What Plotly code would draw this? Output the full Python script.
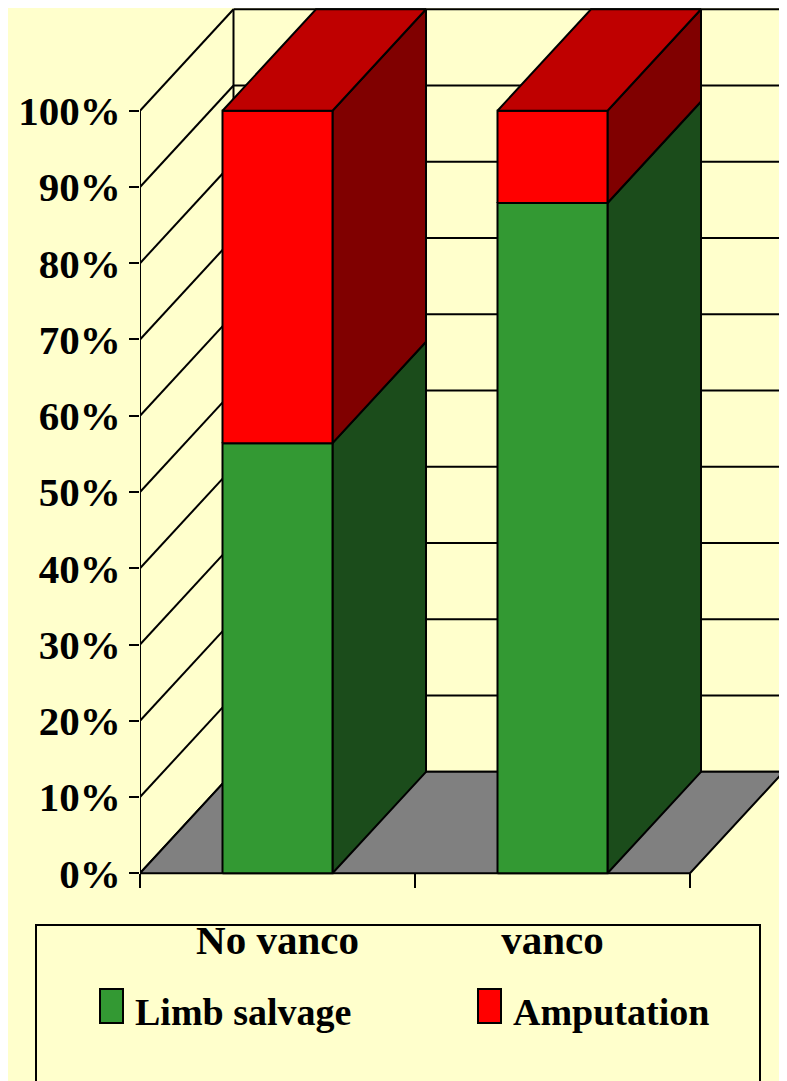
import plotly.graph_objects as go

# ---------------- data ----------------
categories = ["No vanco", "vanco"]
limb_salvage = [56.4, 87.9]      # % (green, bottom)
amputation = [43.6, 12.1]        # % (red, top)
series_names = ["Limb salvage", "Amputation"]
grid_values = [0, 10, 20, 30, 40, 50, 60, 70, 80, 90, 100]
y_tick_labels = [f"{v}%" for v in grid_values]

# ---------------- style ----------------
BG = "#FFFFCC"
FRONT = {"Limb salvage": "#339933", "Amputation": "#FF0000"}
SIDE = {"Limb salvage": "#1B4C1B", "Amputation": "#800000"}
TOP = {"Limb salvage": "#267326", "Amputation": "#BF0000"}
FLOOR = "#808080"
DX = 0.34      # 3-D depth offset (category units)
DY = 13.3      # 3-D depth offset (percent units)
HALF = 0.2     # half bar width (category units)
FONT = "Liberation Serif, Times New Roman, serif"

OFF = 8                      # page body margin
W, H = 787 - OFF, 1081 - OFF
L = 140 - OFF
PX_PER_CAT = 275.0
PX_PER_PCT = 7.626
ZERO_PX = 873.3 - OFF
x_range = [0, (W - L) / PX_PER_CAT]
y_range = [-(H - ZERO_PX) / PX_PER_PCT, ZERO_PX / PX_PER_PCT]

n = len(categories)
fig = go.Figure()


def poly(xs, ys, color):
    fig.add_trace(go.Scatter(
        x=list(xs) + [xs[0]], y=list(ys) + [ys[0]], mode="lines",
        fill="toself", fillcolor=color,
        line=dict(color="black", width=2),
        hoverinfo="skip", showlegend=False))


# walls (gridlines on back wall and left wall)
wx, wy = [], []
for g in grid_values:
    wx += [DX, n + DX, None]
    wy += [g + DY, g + DY, None]
    wx += [0, DX, None]
    wy += [g, g + DY, None]
for xv in (DX, n + DX):
    wx += [xv, xv, None]
    wy += [grid_values[0] + DY, grid_values[-1] + DY, None]
wx += [0, 0, None]
wy += [grid_values[0], grid_values[-1], None]
fig.add_trace(go.Scatter(x=wx, y=wy, mode="lines",
                         line=dict(color="black", width=2),
                         hoverinfo="skip", showlegend=False))

# floor
poly([0, n, n + DX, DX], [0, 0, DY, DY], FLOOR)

# bars
for i in range(n):
    xc = i + 0.5
    x0, x1 = xc - HALF, xc + HALF
    base = 0.0
    segs = [(series_names[0], limb_salvage[i]), (series_names[1], amputation[i])]
    for k, (name, val) in enumerate(segs):
        top = base + val
        poly([x1, x1 + DX, x1 + DX, x1], [base, base + DY, top + DY, top], SIDE[name])
        poly([x0, x1, x1, x0], [base, base, top, top], FRONT[name])
        if k == len(segs) - 1:
            poly([x0, x1, x1 + DX, x0 + DX], [top, top, top + DY, top + DY], TOP[name])
        base = top


def px_x(p):  # screen pixel -> paper x
    return (p - OFF - L) / (W - L)


def px_y(p):  # screen pixel -> paper y
    return (H - (p - OFF)) / H


shapes = []
annotations = []
# legend box
shapes.append(dict(type="rect", xref="paper", yref="paper",
                   x0=px_x(36), x1=px_x(760), y0=px_y(1095), y1=px_y(925),
                   line=dict(color="black", width=2), fillcolor="rgba(0,0,0,0)",
                   layer="below"))
legend_pos = [(100, 135), (478, 513)]
for name, (sx, tx) in zip(series_names, legend_pos):
    shapes.append(dict(type="rect", xref="paper", yref="paper",
                       x0=px_x(sx), x1=px_x(sx + 23), y0=px_y(1023), y1=px_y(989),
                       line=dict(color="black", width=2), fillcolor=FRONT[name]))
    annotations.append(dict(text=name, xref="paper", yref="paper",
                            x=px_x(tx - 2), y=px_y(1012), xanchor="left", yanchor="middle",
                            showarrow=False,
                            font=dict(family=FONT, size=38, color="black", weight="bold")))

fig.update_layout(
    width=W, height=H,
    margin=dict(l=L, r=0, t=0, b=0),
    paper_bgcolor=BG, plot_bgcolor=BG,
    showlegend=False,
    shapes=shapes, annotations=annotations,
    xaxis=dict(range=x_range, showgrid=False, zeroline=False, showline=False,
               tickmode="array", tickvals=[i + 0.5 for i in range(n)], ticktext=categories,
               ticks="", anchor="free", position=(H - ZERO_PX) / H,
               ticklabelstandoff=39,
               tickfont=dict(family=FONT, size=41, color="black", weight="bold"),
               minor=dict(tickmode="array", tickvals=list(range(n + 1)), ticks="outside",
                          ticklen=14, tickwidth=2, tickcolor="black", showgrid=False)),
    yaxis=dict(range=y_range, showgrid=False, zeroline=False, showline=False,
               tickmode="array", tickvals=grid_values, ticktext=y_tick_labels,
               ticks="outside", ticklen=10, tickwidth=2, tickcolor="black",
               ticklabelstandoff=0,
               tickfont=dict(family=FONT, size=41, color="black", weight="bold")),
)

fig.write_html("out.html")
